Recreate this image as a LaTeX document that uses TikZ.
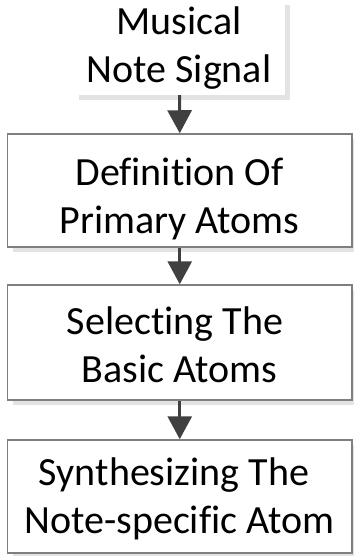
\documentclass[tikz,border=0pt]{standalone}
\usepackage{fontspec}
\setmainfont{Carlito}[Ligatures=NoCommon]
\usetikzlibrary{arrows.meta,shadows}
\definecolor{edgegray}{HTML}{7F7F7F}
\definecolor{arrgray}{HTML}{404040}
\definecolor{shadegray}{HTML}{E3E3E3}
\tikzset{
  stepbox/.style={draw=edgegray, line width=1.5pt, fill=white, minimum width=344.5pt,
    minimum height=113pt, inner sep=0pt,
    drop shadow={shadow xshift=5pt, shadow yshift=-5pt, fill=shadegray, opacity=1}},
  srcbox/.style={fill=white, minimum width=211pt, minimum height=95pt, inner sep=0pt,
    drop shadow={shadow xshift=5pt, shadow yshift=-5pt, fill=shadegray, opacity=1}},
  lbl/.style={align=center, font=\fontsize{40}{48}\selectfont, inner sep=0pt, anchor=base},
  flow/.style={draw=arrgray, line width=3pt, -{Triangle[width=24pt,length=23pt]}}
}
\begin{document}
\begin{tikzpicture}[x=1pt,y=-1pt]
\useasboundingbox (0,0) rectangle (353,556);
\fill[white] (0,0) rectangle (353,556);
\node[srcbox]  (src) at (179.5,47.5) {};
\node[stepbox] (b1) at (179.75,190.5) {};
\node[stepbox, minimum height=115pt] (b2) at (179.75,342.5) {};
\node[stepbox] (b3) at (179.75,496.5) {};
\node[lbl] (t0) at (179,83)  {Musical\\Note Signal};
\node[lbl] (t1) at (179.5,233) {Definition Of\\Primary Atoms};
\node[lbl] (t2) at (179.5,382) {Selecting The\kern9pt\\Basic Atoms};
\node[lbl] (t3) at (179.5,533) {Synthesizing The\kern11pt\\Note-specific Atom};
\draw[flow] (src.south) -- (b1.north);
\draw[flow] (b1.south) -- (b2.north);
\draw[flow] (b2.south) -- (b3.north);
\end{tikzpicture}
\end{document}
